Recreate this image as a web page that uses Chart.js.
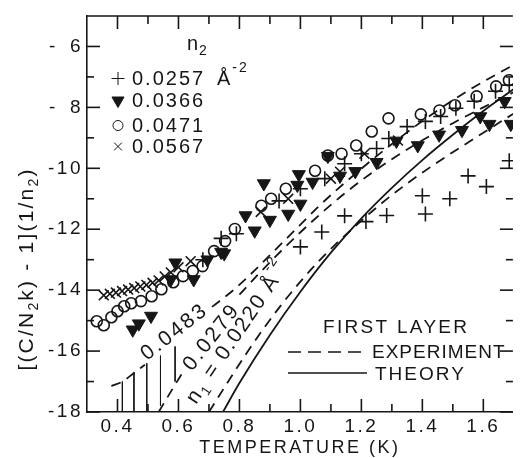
<!DOCTYPE html>
<html><head><meta charset="utf-8">
<script src="https://cdn.jsdelivr.net/npm/chart.js@4.4.1/dist/chart.umd.min.js"></script>
<style>html,body{margin:0;padding:0;background:#fff;overflow:hidden}#wrap{width:522px;height:458px}</style>
</head><body><div id="wrap"><canvas id="c" width="522" height="458"></canvas></div>
<script>
// ---- axis ticks ----
const xMajorTicks = [0.4, 0.6, 0.8, 1.0, 1.2, 1.4, 1.6];
const xMinorTicks = [0.5, 0.7, 0.9, 1.1, 1.3, 1.5];
const yMajorTicks = [-18, -16, -14, -12, -10, -8, -6];
const yMinorTicks = [-17, -15, -13, -11, -9, -7];

// ---- legend ----
const seriesLabels = ['0.0257', '0.0366', '0.0471', '0.0567'];

// ---- data: n2 = 0.0257 (+) ----
const plusT = [0.68, 0.74, 0.79, 0.93, 1.00, 1.08, 1.145, 1.20, 1.25, 1.29, 1.35, 1.41, 1.46, 1.51, 1.57, 1.64, 1.685,
               1.00, 1.07, 1.145, 1.215, 1.283, 1.40, 1.41, 1.49, 1.55, 1.61, 1.685];
const plusV = [-13.0, -12.3, -12.15, -11.07, -10.67, -10.34, -9.85, -9.52, -9.35, -9.02, -8.63, -8.46, -8.30, -8.03, -7.80, -7.47, -7.27,
               -12.58, -12.09, -11.56, -11.75, -11.55, -10.9, -11.5, -11.0, -10.25, -10.6, -9.75];
// ---- n2 = 0.0366 (filled triangles) ----
const triT = [0.45, 0.47, 0.51, 0.575, 0.59, 0.65, 0.695, 0.74, 0.75, 0.82, 0.85, 0.88, 0.90, 0.96, 0.99, 0.995, 1.00, 1.04, 1.09, 1.13, 1.18, 1.25, 1.315, 1.385, 1.455, 1.53, 1.59, 1.62, 1.67, 1.69];
const triV = [-15.3, -15.1, -14.85, -13.65, -13.1, -13.65, -13.0, -12.75, -12.8, -11.55, -12.05, -10.5, -11.7, -11.5, -10.55, -10.2, -11.17, -10.45, -9.6, -10.25, -10.1, -9.8, -9.1, -9.25, -8.9, -8.75, -8.3, -8.55, -7.8, -8.55];
// ---- n2 = 0.0471 (open circles) ----
const circT = [0.332, 0.355, 0.380, 0.400, 0.422, 0.445, 0.477, 0.512, 0.544, 0.583, 0.615, 0.647, 0.679, 0.717, 0.753, 0.785, 0.872, 0.904, 0.952, 1.048, 1.090, 1.135, 1.183, 1.234, 1.289, 1.395, 1.456, 1.507, 1.578, 1.642, 1.684];
const circV = [-15.02, -15.15, -14.89, -14.69, -14.53, -14.43, -14.36, -14.20, -13.97, -13.74, -13.54, -13.37, -13.21, -12.72, -12.39, -11.99, -11.23, -11.0, -10.67, -10.08, -9.58, -9.52, -9.25, -8.79, -8.36, -8.23, -8.10, -7.93, -7.64, -7.31, -7.11];
// ---- n2 = 0.0567 (x) ----
const crossT = [0.355, 0.375, 0.395, 0.415, 0.435, 0.455, 0.475, 0.495, 0.515, 0.535, 0.555, 0.575, 0.60, 0.64, 0.87, 0.96, 1.10, 1.13, 1.21, 1.32];
const crossV = [-14.17, -14.12, -14.08, -14.03, -13.98, -13.93, -13.88, -13.83, -13.76, -13.68, -13.55, -13.42, -13.25, -13.05, -11.43, -11.0, -10.34, -10.11, -9.52, -9.09];

// ---- first layer curves ----
const theoryT = [0.746, 0.80, 0.90, 1.00, 1.10, 1.20, 1.30, 1.40, 1.50, 1.60, 1.70];
const theoryV = [-18, -17.05, -15.47, -14.05, -12.77, -11.64, -10.64, -9.73, -8.90, -8.12, -7.40];
const exp0220T = [0.70, 0.76, 0.82, 0.88, 0.94, 1.00, 1.06, 1.12, 1.18, 1.26, 1.35, 1.45, 1.55, 1.70];
const exp0220V = [-18, -17.05, -16.12, -15.25, -14.45, -13.72, -13.05, -12.45, -11.9, -11.2, -10.5, -9.8, -9.15, -8.2];
const exp0279T = [0.535, 0.58, 0.62, 0.70, 0.80, 0.86, 0.92, 1.00, 1.10, 1.20, 1.30, 1.40, 1.50, 1.60, 1.70];
const exp0279V = [-18, -17.25, -16.6, null, -14.15, -13.5, -12.88, -12.1, -11.2, -10.4, -9.7, -9.08, -8.52, -8.0, -7.5];
const exp0483T = [0.38, 0.416, 0.454, 0.49, 0.60, 0.71, 0.78, 0.85, 0.92, 1.00, 1.06, 1.12, 1.25, 1.40, 1.55, 1.70];
const exp0483V = [-17.15, -17.0, -16.72, -16.45, null, -14.55, -14.0, -13.35, -12.65, -11.85, -11.25, -10.7, -9.6, -8.45, -7.45, -6.6];
// hatching under the 0.0483 curve
const hatchT = [0.416, 0.454, 0.496, 0.541, 0.589];
const hatchTop = [-17.0, -16.7, -16.4, -16.15, -15.85];
const hatchBottom = [-18, -18, -18, -17.8, -17.0];

const INK = '#161616';
const FONT = '"Liberation Sans", Arial, sans-serif';
const pts = (T, V) => T.map((t, i) => ({x: t, y: V[i]}));

const datasets = [
  {data: pts(plusT, plusV), pointStyle: 'cross', pointRadius: 7.5, borderColor: INK, borderWidth: 1.6, showLine: false},
  {data: pts(triT, triV), pointStyle: 'triangle', rotation: 180, pointRadius: 7.5, backgroundColor: INK, borderColor: INK, borderWidth: 1, showLine: false},
  {data: pts(circT, circV), pointStyle: 'circle', pointRadius: 5.5, backgroundColor: 'rgba(0,0,0,0)', borderColor: INK, borderWidth: 1.6, showLine: false},
  {data: pts(crossT, crossV), pointStyle: 'crossRot', pointRadius: 7, borderColor: INK, borderWidth: 1.6, showLine: false},
  {type: 'line', data: pts(theoryT, theoryV), borderColor: INK, borderWidth: 1.8, pointRadius: 0, cubicInterpolationMode: 'monotone', fill: false},
  {type: 'line', data: pts(exp0220T, exp0220V), borderColor: INK, borderWidth: 1.8, borderDash: [10, 7], pointRadius: 0, cubicInterpolationMode: 'monotone', fill: false},
  {type: 'line', data: pts(exp0279T, exp0279V), borderColor: INK, borderWidth: 1.8, borderDash: [10, 7], pointRadius: 0, cubicInterpolationMode: 'monotone', fill: false, spanGaps: false},
  {type: 'line', data: pts(exp0483T, exp0483V), borderColor: INK, borderWidth: 1.8, borderDash: [10, 7], pointRadius: 0, cubicInterpolationMode: 'monotone', fill: false, spanGaps: false},
  ...hatchT.map((t, i) => ({type: 'line', data: [{x: t, y: hatchTop[i]}, {x: t, y: hatchBottom[i]}], borderColor: INK, borderWidth: 1, pointRadius: 0, fill: false}))
];

function richText(ctx, x, y, angle, segs, spacing, align) {
  ctx.save();
  ctx.translate(x, y);
  ctx.rotate(angle * Math.PI / 180);
  ctx.textBaseline = 'alphabetic';
  ctx.textAlign = 'left';
  ctx.letterSpacing = spacing + 'px';
  ctx.fillStyle = INK;
  let total = 0;
  for (const s of segs) { ctx.font = s.size + 'px ' + FONT; total += ctx.measureText(s.t).width; }
  let cx = align === 'center' ? -total / 2 : 0;
  for (const s of segs) {
    ctx.font = s.size + 'px ' + FONT;
    ctx.fillText(s.t, cx, s.dy || 0);
    cx += ctx.measureText(s.t).width;
  }
  ctx.restore();
}

const framePlugin = {
  id: 'frame',
  beforeDraw(chart) { chart.ctx.letterSpacing = '2.5px'; },
  afterDraw(chart) {
    const ctx = chart.ctx, a = chart.chartArea, xs = chart.scales.x, ys = chart.scales.y;
    ctx.letterSpacing = '0px';
    ctx.save();
    ctx.strokeStyle = INK; ctx.lineWidth = 1.6; ctx.setLineDash([]);
    const seg = (x1, y1, x2, y2) => { ctx.beginPath(); ctx.moveTo(x1, y1); ctx.lineTo(x2, y2); ctx.stroke(); };
    seg(a.left - 0.8, a.top, a.right, a.top);
    xMajorTicks.forEach(v => { const x = xs.getPixelForValue(v); seg(x, a.bottom, x, a.bottom - 13); seg(x, a.top, x, a.top + 13); });
    xMinorTicks.forEach(v => { const x = xs.getPixelForValue(v); seg(x, a.bottom, x, a.bottom - 8); seg(x, a.top, x, a.top + 8); });
    yMajorTicks.forEach(v => { const y = ys.getPixelForValue(v); seg(a.left, y, a.left + 13, y); seg(a.right, y, a.right - 13, y); });
    yMinorTicks.forEach(v => { const y = ys.getPixelForValue(v); seg(a.left, y, a.left + 7, y); seg(a.right, y, a.right - 7, y); });
    ctx.restore();

    // y axis title
    richText(ctx, 33, 269, -90, [
      {t: '[(C/N', size: 21}, {t: '2', size: 14, dy: 5}, {t: 'k) - 1](1/n', size: 21}, {t: '2', size: 14, dy: 5}, {t: ')', size: 21}
    ], 2.2, 'center');

    // in-plot legend
    richText(ctx, 187, 50, 0, [{t: 'n', size: 20}, {t: '2', size: 14, dy: 5}], 1);
    const rows = [85, 107, 132, 153];
    const styles = [
      {pointStyle: 'cross', radius: 6.5, borderWidth: 1.6, fill: 'rgba(0,0,0,0)'},
      {pointStyle: 'triangle', rotation: 180, radius: 7, borderWidth: 1, fill: INK},
      {pointStyle: 'circle', radius: 5, borderWidth: 1.6, fill: 'rgba(0,0,0,0)'},
      {pointStyle: 'crossRot', radius: 5.5, borderWidth: 1.6, fill: 'rgba(0,0,0,0)'}
    ];
    seriesLabels.forEach((lab, i) => {
      ctx.save();
      ctx.strokeStyle = INK; ctx.fillStyle = styles[i].fill;
      Chart.helpers.drawPoint(ctx, {pointStyle: styles[i].pointStyle, radius: styles[i].radius, borderWidth: styles[i].borderWidth, rotation: styles[i].rotation || 0}, 118, rows[i] - 6.5);
      ctx.restore();
      richText(ctx, 132, rows[i], 0, [{t: lab, size: 20}], 2);
    });
    richText(ctx, 217, 85, 0, [{t: 'Å', size: 20}, {t: '-2', size: 14, dy: -13}], 2);

    // curve labels
    richText(ctx, 147, 361, -38, [{t: '0.0483', size: 21}], 2.5);
    richText(ctx, 192, 372, -52, [{t: '0.0279', size: 21}], 2.5);
    richText(ctx, 196, 405, -56, [{t: 'n', size: 21}, {t: '1', size: 14, dy: 5}, {t: ' = 0.0220 Å', size: 21}, {t: '-2', size: 14, dy: -13}], 1.8);

    // first-layer key
    richText(ctx, 323, 333, 0, [{t: 'FIRST LAYER', size: 19}], 2.3);
    ctx.save();
    ctx.strokeStyle = INK; ctx.lineWidth = 1.6;
    ctx.setLineDash([13, 7]);
    seg(288, 352, 367, 352);
    ctx.setLineDash([]);
    seg(288, 373, 367, 373);
    ctx.restore();
    richText(ctx, 372, 358, 0, [{t: 'EXPERIMENT', size: 19}], 1);
    richText(ctx, 375, 380, 0, [{t: 'THEORY', size: 19}], 2);
  }
};

new Chart(document.getElementById('c').getContext('2d'), {
  type: 'scatter',
  data: {datasets},
  options: {
    responsive: false, animation: false, devicePixelRatio: 1,
    layout: {padding: {top: 16, right: 0, left: 0, bottom: 0}},
    plugins: {legend: {display: false}, tooltip: {enabled: false}},
    scales: {
      x: {
        type: 'linear', min: 0.3, max: 1.697,
        afterBuildTicks: s => { s.ticks = xMajorTicks.map(v => ({value: v})); },
        afterFit: s => { s.height = 46; },
        grid: {display: false, drawTicks: false},
        border: {display: true, color: INK, width: 1.6},
        ticks: {color: INK, font: {size: 19, family: FONT}, padding: 3, maxRotation: 0, autoSkip: false, callback: v => Number(v).toFixed(1)},
        title: {display: true, text: 'TEMPERATURE (K)', color: INK, font: {size: 18, family: FONT, lineHeight: 1}, padding: {top: 0, bottom: 1}}
      },
      y: {
        type: 'linear', min: -18, max: -5,
        afterBuildTicks: s => { s.ticks = yMajorTicks.map(v => ({value: v})); },
        afterFit: s => { s.width = 87; },
        grid: {display: false, drawTicks: false},
        border: {display: true, color: INK, width: 1.6},
        ticks: {color: INK, font: {size: 19, family: FONT}, padding: 4, autoSkip: false, callback: v => (v > -10 ? '-\u2002' + (-v) : '-' + (-v))}
      }
    }
  },
  plugins: [framePlugin]
});
</script>
</body></html>
